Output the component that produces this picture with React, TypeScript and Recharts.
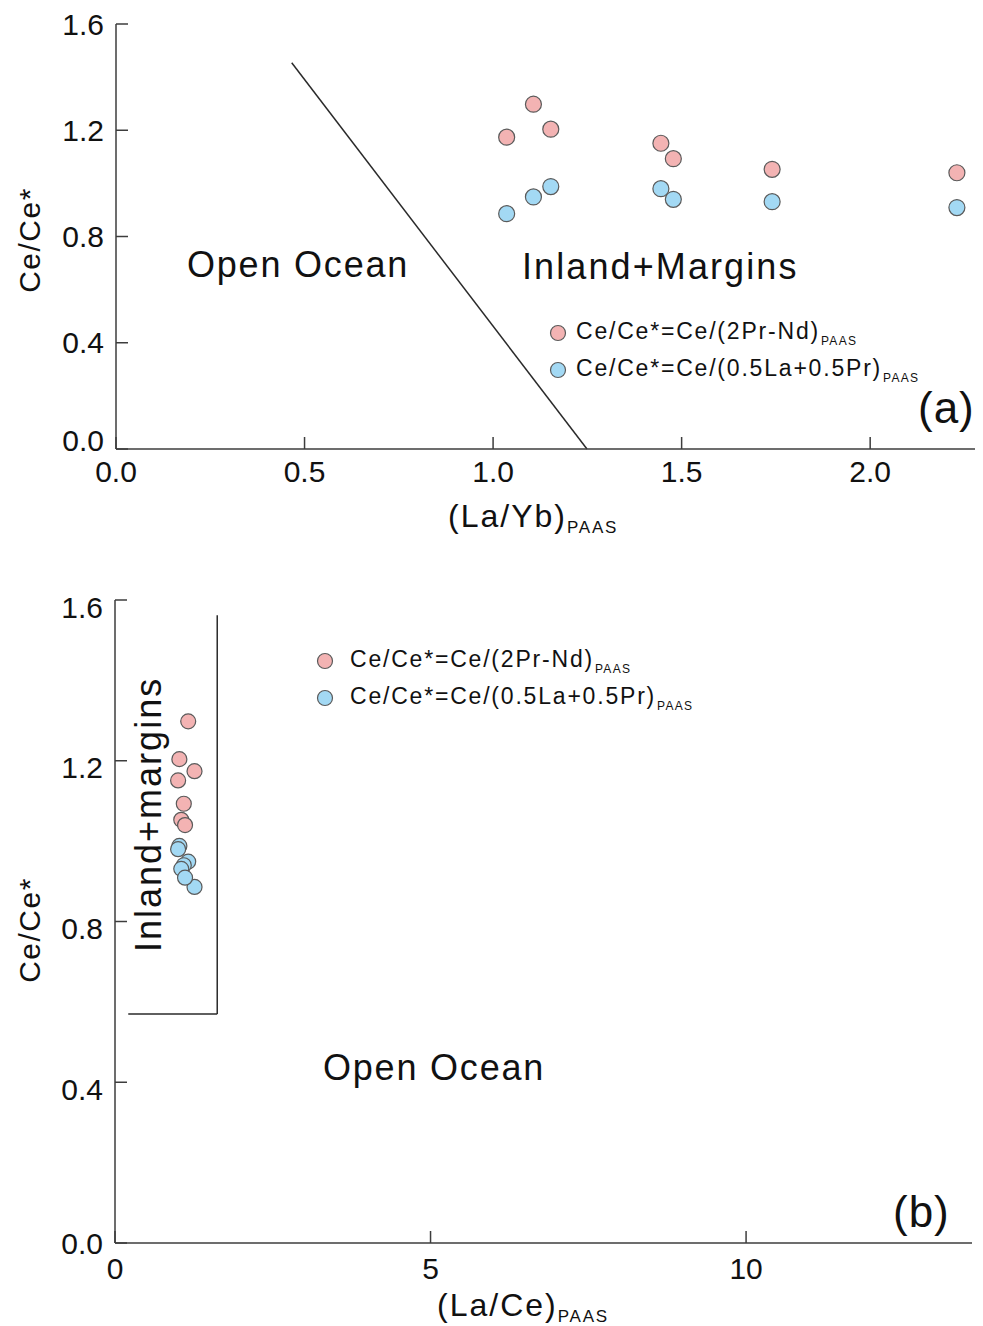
import { ScatterChart, Scatter, XAxis, YAxis, ReferenceLine, Legend } from 'recharts'

// samples, same order in both panels
const laYb = [1.036, 1.107, 1.153, 1.445, 1.478, 1.74, 2.23]
const laCe = [1.26, 1.16, 1.02, 1.0, 1.09, 1.05, 1.11]
const cePrNd = [1.174, 1.298, 1.204, 1.151, 1.093, 1.053, 1.04]
const ceLaPr = [0.886, 0.949, 0.988, 0.98, 0.94, 0.931, 0.909]

const ceTicks = [0, 0.4, 0.8, 1.2, 1.6]
const laYbTicks = [0, 0.5, 1, 1.5, 2]
const laCeTicks = [0, 5, 10]

const seriesNames = ['Ce/Ce*=Ce/(2Pr-Nd)', 'Ce/Ce*=Ce/(0.5La+0.5Pr)']

// field boundaries
const oceanLine = [
  { x: 0.466, y: 1.454 },
  { x: 1.249, y: 0 },
]
const bracketV = [
  { x: 1.62, y: 1.562 },
  { x: 1.62, y: 0.57 },
]
const bracketH = [
  { x: 0.21, y: 0.57 },
  { x: 1.62, y: 0.57 },
]

const FONT = '"Liberation Sans", Arial, sans-serif'
const AXIS = '#3d3d3d'
const PINK = '#f3b3b3'
const BLUE = '#a3d9f4'
const EDGE = '#5a5a5a'

const topPink = laYb.map((x, i) => ({ x, y: cePrNd[i] }))
const topBlue = laYb.map((x, i) => ({ x, y: ceLaPr[i] }))
const botPink = laCe.map((x, i) => ({ x, y: cePrNd[i] }))
const botBlue = laCe.map((x, i) => ({ x, y: ceLaPr[i] }))

const dot = (fill: string, r: number) => (p: any) => (
  <circle cx={p.cx} cy={p.cy} r={r} fill={fill} stroke={EDGE} strokeWidth={1.2} />
)

function LegendBox({ payload, gap }: { payload?: any[]; gap: number }) {
  const items = [...(payload || [])].sort(
    (a: any, b: any) => seriesNames.indexOf(a.value) - seriesNames.indexOf(b.value)
  )
  return (
    <div style={{ fontFamily: FONT, color: '#111' }}>
      {items.map((e: any) => (
        <div key={e.value} style={{ display: 'flex', alignItems: 'center', height: 37.5 }}>
          <svg width={18} height={18} style={{ marginRight: gap }}>
            <circle cx={9} cy={9} r={7.5} fill={e.color} stroke={EDGE} strokeWidth={1.2} />
          </svg>
          <span style={{ fontSize: 23, letterSpacing: 1.8, whiteSpace: 'nowrap' }}>
            {e.value}
            <sub style={{ fontSize: 12, letterSpacing: 1.3, marginLeft: 1 }}>PAAS</sub>
          </span>
        </div>
      ))}
    </div>
  )
}

const tickStyle = { fill: '#111', fontSize: 30, fontFamily: FONT }

function TopYTick(p: any) {
  const v = p.payload.value
  return (
    <text x={p.x} y={p.y + (v === 0 ? -9 : 0)} textAnchor="end" dominantBaseline="central" fill="#111" fontSize={30} fontFamily={FONT}>
      {v.toFixed(1)}
    </text>
  )
}

function BottomYTick(p: any) {
  const v = p.payload.value
  return (
    <text x={p.x} y={p.y + (v === 0 ? 0 : 7)} textAnchor="end" dominantBaseline="central" fill="#111" fontSize={30} fontFamily={FONT}>
      {v.toFixed(1)}
    </text>
  )
}

export default function App() {
  return (
    <div style={{ position: 'absolute', left: 0, top: 0, width: 983, height: 1326, background: '#fff' }}>
      <div style={{ position: 'absolute', left: 0, top: 0 }}>
        <ScatterChart width={983} height={545} margin={{ top: 24, right: 8, left: 56, bottom: 56 }}>
          <XAxis
            type="number"
            dataKey="x"
            domain={[0, 2.278]}
            ticks={laYbTicks}
            tickFormatter={(v: number) => v.toFixed(1)}
            height={40}
            stroke={AXIS}
            strokeWidth={1.5}
            tickSize={-12}
            tickMargin={24}
            tick={tickStyle}
          />
          <YAxis
            type="number"
            dataKey="y"
            domain={[0, 1.6]}
            ticks={ceTicks}
            width={60}
            stroke={AXIS}
            strokeWidth={1.5}
            tickSize={-12}
            tickMargin={24}
            tick={<TopYTick />}
          />
          <ReferenceLine segment={oceanLine} stroke="#2a2a2a" strokeWidth={1.5} ifOverflow="visible" />
          <Scatter name={seriesNames[0]} data={topPink} fill={PINK} shape={dot(PINK, 8)} isAnimationActive={false} />
          <Scatter name={seriesNames[1]} data={topBlue} fill={BLUE} shape={dot(BLUE, 8)} isAnimationActive={false} />
          <Legend
            layout="vertical"
            align="center"
            verticalAlign="middle"
            wrapperStyle={{ left: 549, top: 314, width: 'auto' }}
            content={(props: any) => <LegendBox payload={props.payload} gap={9} />}
          />
        </ScatterChart>
      </div>

      <div style={{ position: 'absolute', left: 0, top: 560 }}>
        <ScatterChart width={983} height={766} margin={{ top: 40, right: 11, left: 55, bottom: 43 }}>
          <XAxis
            type="number"
            dataKey="x"
            domain={[0, 13.58]}
            ticks={laCeTicks}
            height={40}
            stroke={AXIS}
            strokeWidth={1.5}
            tickSize={-12}
            tickMargin={27}
            tick={tickStyle}
          />
          <YAxis
            type="number"
            dataKey="y"
            domain={[0, 1.6]}
            ticks={ceTicks}
            width={60}
            stroke={AXIS}
            strokeWidth={1.5}
            tickSize={-12}
            tickMargin={24}
            tick={<BottomYTick />}
          />
          <ReferenceLine segment={bracketV} stroke="#2a2a2a" strokeWidth={1.5} ifOverflow="visible" />
          <ReferenceLine segment={bracketH} stroke="#2a2a2a" strokeWidth={1.5} ifOverflow="visible" />
          <Scatter name={seriesNames[0]} data={botPink} fill={PINK} shape={dot(PINK, 7.5)} isAnimationActive={false} />
          <Scatter name={seriesNames[1]} data={botBlue} fill={BLUE} shape={dot(BLUE, 7.5)} isAnimationActive={false} />
          <Legend
            layout="vertical"
            align="center"
            verticalAlign="middle"
            wrapperStyle={{ left: 316, top: 82, width: 'auto' }}
            content={(props: any) => <LegendBox payload={props.payload} gap={16} />}
          />
        </ScatterChart>
      </div>

      <svg
        width={983}
        height={1326}
        style={{ position: 'absolute', left: 0, top: 0, pointerEvents: 'none' }}
        fontFamily={FONT}
        fill="#111"
      >
        {/* panel a */}
        <text x={40} y={240} fontSize={30} letterSpacing={1.5} textAnchor="middle" transform="rotate(-90 40 240)">
          Ce/Ce*
        </text>
        <text x={448} y={527} fontSize={32} letterSpacing={2}>
          (La/Yb)<tspan fontSize={17} letterSpacing={1.8} dy={6}>PAAS</tspan>
        </text>
        <text x={187} y={277} fontSize={36} letterSpacing={1.8}>Open Ocean</text>
        <text x={522} y={279} fontSize={36} letterSpacing={2.1}>Inland+Margins</text>
        <text x={918} y={423} fontSize={44} letterSpacing={1}>(a)</text>

        {/* panel b */}
        <text x={40} y={930} fontSize={30} letterSpacing={1.5} textAnchor="middle" transform="rotate(-90 40 930)">
          Ce/Ce*
        </text>
        <text x={437} y={1316} fontSize={32} letterSpacing={2}>
          (La/Ce)<tspan fontSize={17} letterSpacing={1.8} dy={6}>PAAS</tspan>
        </text>
        <text x={323} y={1080} fontSize={36} letterSpacing={1.8}>Open Ocean</text>
        <text x={161} y={952} fontSize={36} letterSpacing={2} transform="rotate(-90 161 952)">
          Inland+margins
        </text>
        <text x={893} y={1227} fontSize={44} letterSpacing={1}>(b)</text>
      </svg>
    </div>
  )
}
